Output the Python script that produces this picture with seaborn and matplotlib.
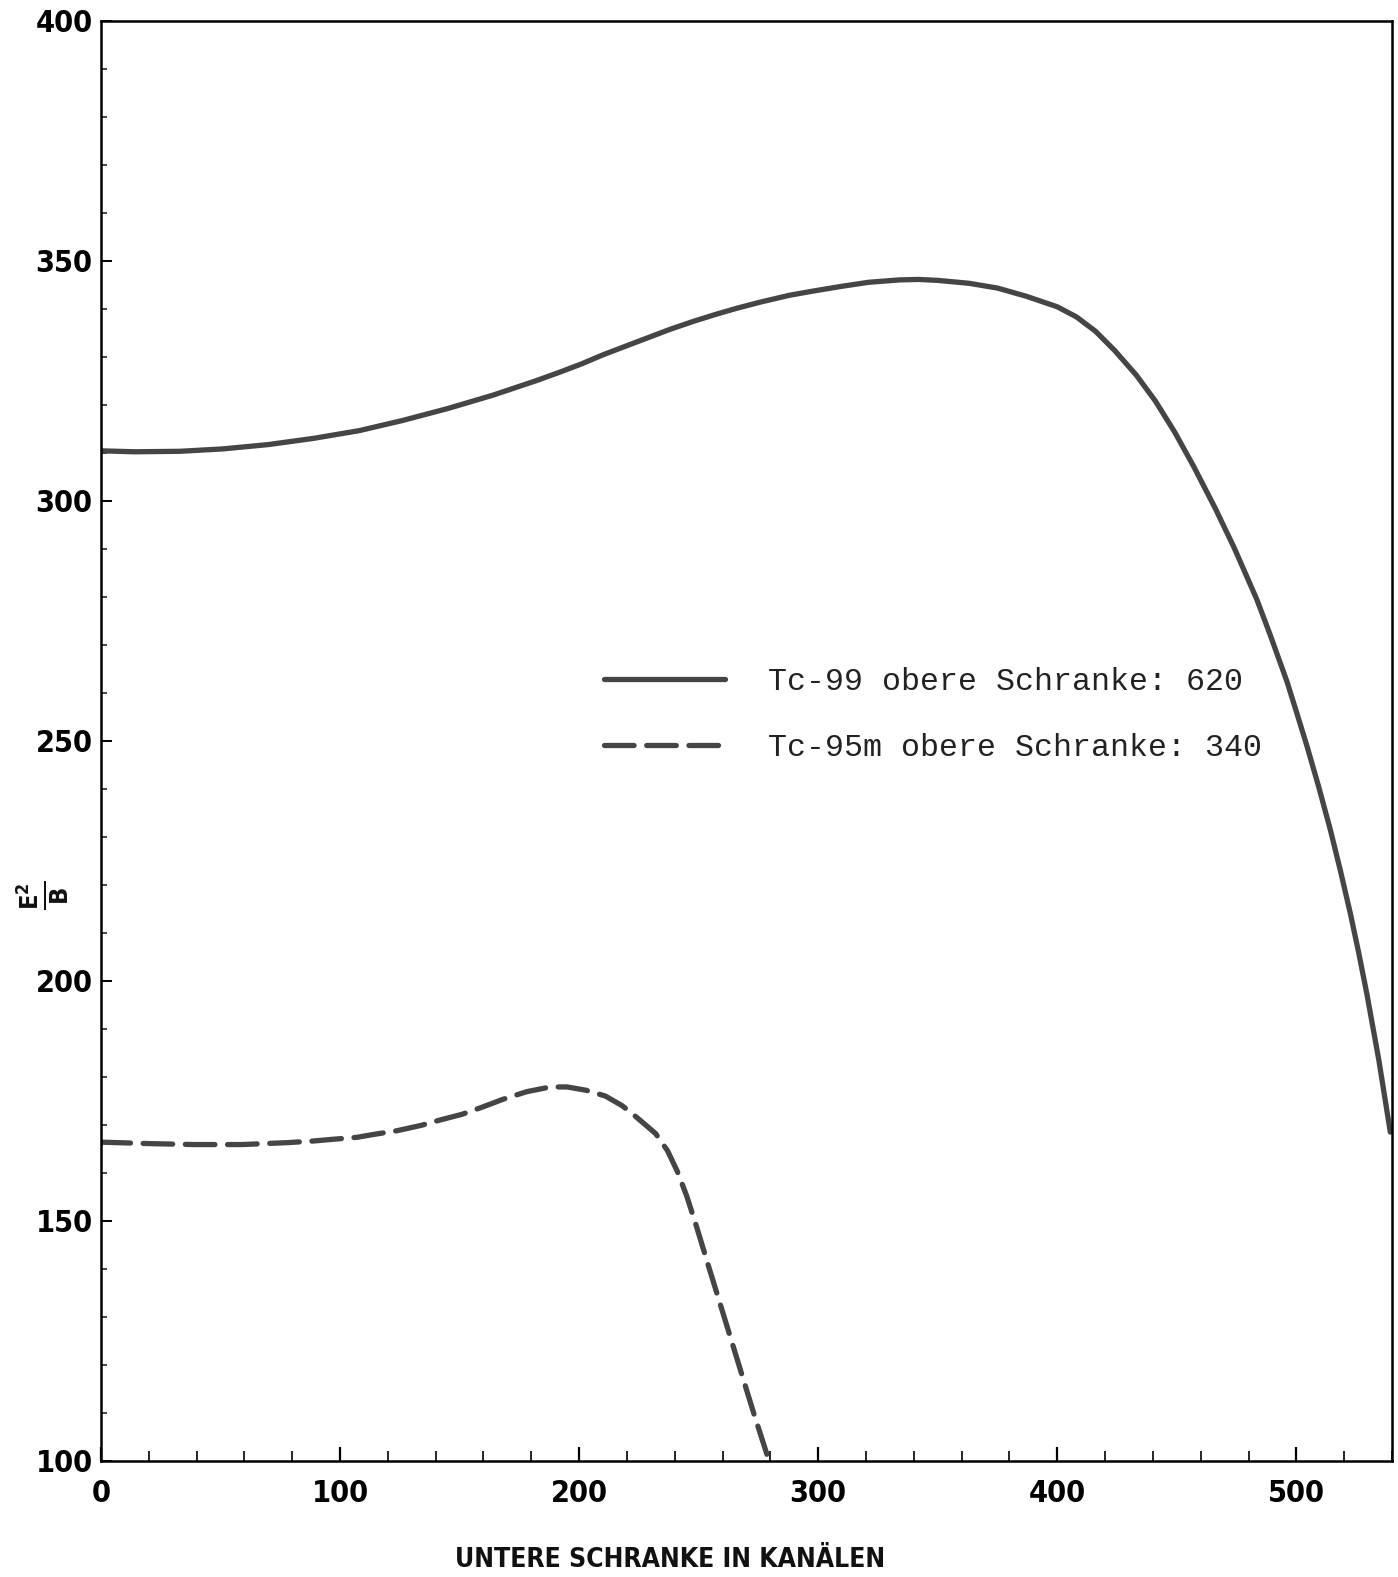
import matplotlib
matplotlib.use("Agg")
import matplotlib.pyplot as plt
import seaborn as sns
import pandas as pd
from matplotlib.ticker import MultipleLocator

# ---- data ----
tc99_x = [0, 14, 33, 51, 70, 89, 108, 126, 145, 164, 182, 192, 201, 210, 220,
          229, 238, 248, 257, 266, 276, 288, 297, 309, 321, 334, 342, 350, 363,
          375, 387, 400, 408, 416, 424, 433, 441, 449, 457, 466, 474, 483.5,
          489.1, 496.1, 500.3, 504.5, 509.3, 514.2, 518.4, 522.6, 526.1, 529.6,
          534.5, 539.3]
tc99_y = [310.4, 310.2, 310.3, 310.8, 311.7, 313.0, 314.6, 316.7, 319.2, 322.0,
          325.0, 326.8, 328.5, 330.4, 332.3, 334.0, 335.7, 337.4, 338.8, 340.1,
          341.4, 342.8, 343.6, 344.6, 345.5, 346.0, 346.1, 345.9, 345.3, 344.3,
          342.6, 340.4, 338.3, 335.3, 331.3, 326.2, 320.8, 314.4, 307.2, 298.5,
          290.2, 279.4, 272.0, 262.3, 255.6, 248.8, 240.5, 231.5, 223.0, 214.0,
          205.8, 197.0, 183.5, 168.5]

tc95_x = [0, 20, 39, 59, 78, 88, 97, 107, 114, 124, 134, 141, 151, 159, 168,
          178, 188, 195, 203, 211, 218, 224, 232, 237, 241, 245, 249, 254, 259,
          264, 268, 273, 279]
tc95_y = [166.4, 166.1, 165.9, 165.9, 166.3, 166.6, 167.0, 167.4, 168.0, 168.8,
          169.9, 170.9, 172.2, 173.6, 175.3, 176.9, 177.9, 177.9, 177.2, 176.0,
          174.0, 171.6, 168.2, 164.6, 160.4, 155.2, 149.0, 140.8, 132.7, 124.6,
          118.1, 110.0, 100.7]

label_tc99 = "Tc-99 obere Schranke: 620"
label_tc95 = "Tc-95m obere Schranke: 340"
x_ticks = [0, 100, 200, 300, 400, 500]
y_ticks = [100, 150, 200, 250, 300, 350, 400]
x_title = "UNTERE SCHRANKE IN KANÄLEN"
y_title = r"$\mathbf{\frac{E^{2}}{B}}$"

# ---- style ----
sns.set_theme(style="white")
TICKFONT = ["DejaVu Sans", "Liberation Sans"]
plt.rcParams["font.family"] = TICKFONT
plt.rcParams["font.stretch"] = "condensed"
plt.rcParams["mathtext.fontset"] = "dejavusans"

fig = plt.figure(figsize=(13.98, 15.77), dpi=100)
ax = fig.add_axes([0.0722, 0.0736, 0.9235, 0.9133])

line_color = "#454545"
df99 = pd.DataFrame({"x": tc99_x, "y": tc99_y})
df95 = pd.DataFrame({"x": tc95_x, "y": tc95_y})
sns.lineplot(data=df99, x="x", y="y", ax=ax, color=line_color, linewidth=3.8,
             label=label_tc99, solid_capstyle="round", solid_joinstyle="round")
sns.lineplot(data=df95, x="x", y="y", ax=ax, color=line_color, linewidth=3.8,
             label=label_tc95, dashes=False, linestyle=(0, (5.6, 2.4)),
             dash_capstyle="round")

ax.set_xlim(0, 540)
ax.set_ylim(100, 400)
ax.set_xticks(x_ticks)
ax.set_yticks(y_ticks)
ax.xaxis.set_minor_locator(MultipleLocator(20))
ax.yaxis.set_minor_locator(MultipleLocator(10))

for s in ax.spines.values():
    s.set_linewidth(1.8)
    s.set_color("black")

ax.tick_params(axis="x", which="major", direction="in", length=10, width=1.6,
               pad=13, labelsize=22, colors="black")
ax.tick_params(axis="x", which="minor", direction="in", length=7, width=1.4)
ax.tick_params(axis="y", which="major", direction="in", length=8, width=1.4,
               pad=6, labelsize=22, colors="black")
ax.tick_params(axis="y", which="minor", direction="in", length=4, width=1.2)
ax.tick_params(bottom=True, left=True, which="both")
for lab in ax.get_xticklabels() + ax.get_yticklabels():
    lab.set_fontweight("bold")
    lab.set_fontstretch("condensed")

ax.set_xlabel(x_title, fontsize=19, fontweight="bold", fontstretch="condensed",
              color="#111111")
ax.xaxis.set_label_coords(0.441, -0.0595)
ax.set_ylabel(y_title, fontsize=26, rotation=90, color="#111111")
ax.yaxis.set_label_coords(-0.0232, 0.393)

leg = ax.legend(loc="upper left", bbox_to_anchor=(0.390, 0.551),
                frameon=False, borderpad=0, borderaxespad=0,
                handlelength=3.8, handletextpad=1.35, labelspacing=1.12,
                prop={"family": ["Liberation Mono", "DejaVu Sans Mono"],
                      "size": 22.8, "stretch": "normal"})
for t in leg.get_texts():
    t.set_color("#222222")

fig.savefig("out.png", dpi=100, facecolor="white")
